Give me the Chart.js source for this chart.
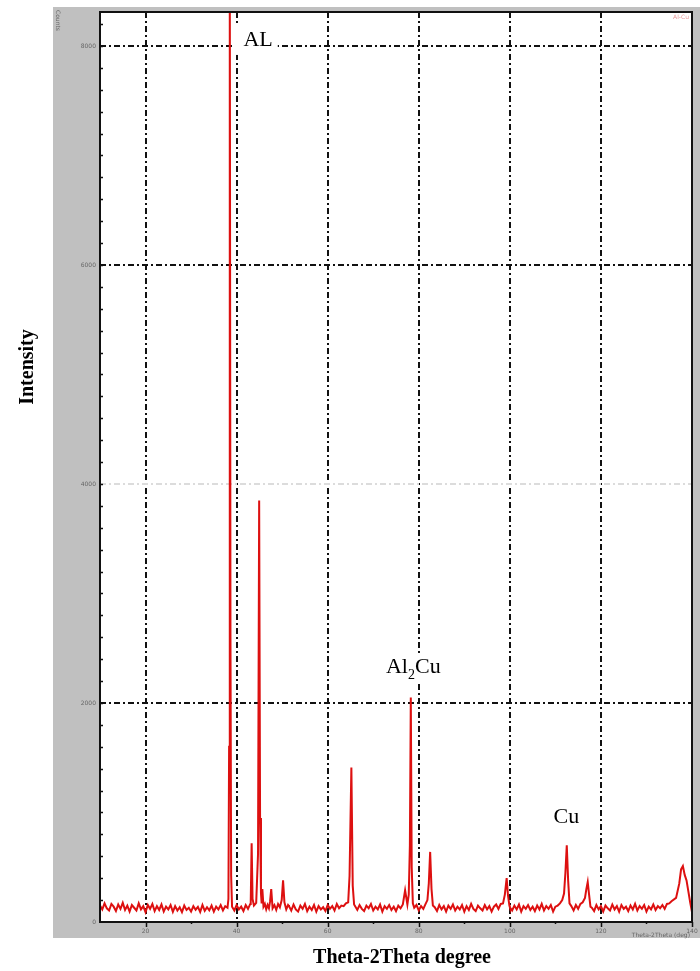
<!DOCTYPE html>
<html>
<head>
<meta charset="utf-8">
<script src="https://cdn.jsdelivr.net/npm/chart.js@4/dist/chart.umd.min.js"></script>
<style>
  html, body { margin: 0; padding: 0; background: #fff; }
  canvas { display: block; }
</style>
</head>
<body>
<canvas id="xrd" width="700" height="971"></canvas>
<script>
// 2-theta positions (deg)
const angles = [
  10,10.5,11,11.5,12,12.5,13,13.5,14,14.5,15,15.5,16,16.5,17,17.5,18,18.5,19,19.5,
  20,20.5,21,21.5,22,22.5,23,23.5,24,24.5,25,25.5,26,26.5,27,27.5,28,28.5,29,29.5,
  30,30.5,31,31.5,32,32.5,33,33.5,34,34.5,35,35.5,36,36.5,37,37.5,38,
  38.2,38.35,38.5,38.65,38.8,39,
  39.5,40,40.5,41,41.5,42,42.5,43,
  43.1,43.3,43.5,43.8,44.3,44.7,44.95,45.15,45.35,45.5,45.65,45.9,46.2,46.5,46.8,47.1,47.35,47.6,47.9,48.3,
  48.7,49.1,49.5,49.9,50.2,50.5,50.9,51.3,
  51.5,52,52.5,53,53.5,54,54.5,55,55.5,56,56.5,57,57.5,58,58.5,59,59.5,60,60.5,61,61.5,62,62.5,63,63.5,64,
  64.5,64.8,65.2,65.5,65.8,
  66,66.5,67,67.5,68,68.5,69,69.5,70,70.5,71,71.5,72,72.5,73,73.5,74,74.5,75,75.5,76,76.5,77,77.5,
  77.8,78.05,78.25,78.45,78.7,79,
  79.5,80,80.5,81,81.5,
  81.9,82.2,82.5,82.8,83.1,
  83.5,84,84.5,85,85.5,86,86.5,87,87.5,88,88.5,89,89.5,90,90.5,91,91.5,92,92.5,93,93.5,94,94.5,95,95.5,96,96.5,97,97.5,98,
  98.5,98.9,99.3,99.6,99.9,
  100,100.5,101,101.5,102,102.5,103,103.5,104,104.5,105,105.5,106,106.5,107,107.5,108,108.5,109,109.5,110,110.5,111,
  111.5,111.9,112.2,112.5,112.8,113.1,
  113.5,114,114.5,115,115.5,116,
  116.5,116.8,117.1,117.4,117.7,
  118,118.5,119,119.5,120,120.5,121,121.5,122,122.5,123,123.5,124,124.5,125,125.5,126,126.5,127,127.5,
  128,128.5,129,129.5,130,130.5,131,131.5,132,132.5,133,133.5,134,134.5,135,135.5,
  136.5,137.2,137.6,138,138.4,138.8,139.2,139.6,140
];

// intensity (counts) at each angle
const counts = [
  150,115,170,125,105,165,140,100,160,120,175,110,150,95,155,130,105,170,115,145,
  90,155,120,165,100,145,110,160,95,140,115,155,92,145,105,135,90,150,110,130,
  95,145,112,138,92,155,102,135,106,150,95,140,115,155,105,145,130,
  210,1600,8800,2600,420,140,
  105,155,115,140,100,155,120,165,
  180,720,210,150,175,620,3850,950,260,170,300,140,165,115,155,125,190,300,125,155,
  110,165,135,200,380,180,115,155,
  145,105,160,115,95,150,120,165,100,140,110,155,94,145,115,135,100,155,120,145,105,165,125,150,145,170,
  180,420,1410,330,160,
  145,110,155,120,100,150,125,165,105,140,115,160,95,145,120,155,110,140,100,150,125,160,290,160,
  250,700,2050,500,170,130,
  155,105,145,120,165,
  200,350,640,300,150,
  135,100,155,115,145,95,150,120,160,105,140,115,155,94,145,110,165,120,100,150,125,105,155,115,145,95,140,160,120,165,
  170,250,400,240,150,
  135,105,150,115,160,95,145,120,155,110,140,100,150,115,165,105,145,120,155,95,140,150,170,
  200,260,450,700,380,170,
  145,105,155,120,165,180,
  220,300,365,250,140,
  130,100,155,115,145,95,150,125,105,160,115,145,94,155,120,140,100,150,115,165,
  105,145,120,155,95,140,115,160,110,145,125,155,120,165,170,190,
  220,350,480,510,430,380,280,180,90
];

const xGrid = [20, 40, 60, 80, 100, 120];
const xTickLabels = [20, 40, 60, 80, 100, 120, 140];
const yGrid = [2000, 4000, 6000, 8000];
const yTickLabels = [0, 2000, 4000, 6000, 8000];
const yFaint = 4000;

const phaseLabels = [
  { name: "AL", sub: "", rest: "", x: 41.5, y: 8000 },
  { name: "Al", sub: "2", rest: "Cu", x: 72.8, y: 2274 },
  { name: "Cu", sub: "", rest: "", x: 109.6, y: 904 }
];

const SERIF = '"Liberation Serif", "DejaVu Serif", serif';

const panelPlugin = {
  id: "panel",
  beforeDraw(chart) {
    const c = chart.ctx, a = chart.chartArea;
    c.save();
    c.fillStyle = "#fff";
    c.fillRect(0, 0, chart.width, chart.height);
    c.fillStyle = "#c0c0c0";
    c.fillRect(53, 7, 647, 931);
    c.fillStyle = "#fff";
    c.fillRect(a.left, a.top, a.right - a.left, a.bottom - a.top);
    c.restore();
  },
  afterDraw(chart) {
    const c = chart.ctx, a = chart.chartArea;
    const xs = chart.scales.x, ys = chart.scales.y;
    c.save();

    // frame
    c.strokeStyle = "#111";
    c.lineWidth = 2;
    c.strokeRect(a.left, a.top, a.right - a.left, a.bottom - a.top);

    // small ticks
    c.lineWidth = 1.5;
    c.beginPath();
    for (let v = 200; v < 8300; v += 200) {
      const py = Math.round(ys.getPixelForValue(v)) + 0.5;
      c.moveTo(a.left, py);
      c.lineTo(a.left + 3, py);
    }
    xTickLabels.forEach(v => {
      const px = Math.round(xs.getPixelForValue(v)) + 0.5;
      c.moveTo(px, a.bottom);
      c.lineTo(px, a.bottom + 5);
    });
    for (let v = 30; v < 140; v += 20) {
      const px = Math.round(xs.getPixelForValue(v)) + 0.5;
      c.moveTo(px, a.bottom);
      c.lineTo(px, a.bottom + 2);
    }
    c.stroke();

    // tiny tick labels
    c.fillStyle = "#666";
    c.font = "6px DejaVu Sans";
    c.textAlign = "right";
    c.textBaseline = "middle";
    yTickLabels.forEach(v => c.fillText(String(v), a.left - 4, ys.getPixelForValue(v)));
    c.textAlign = "center";
    c.textBaseline = "top";
    xTickLabels.forEach(v => c.fillText(String(v), xs.getPixelForValue(v), a.bottom + 6));
    c.textAlign = "right";
    c.fillText("Theta-2Theta (deg)", 690, 932);
    c.save();
    c.translate(58, 10);
    c.rotate(Math.PI / 2);
    c.textAlign = "left";
    c.textBaseline = "middle";
    c.fillText("Counts", 0, 0);
    c.restore();
    c.fillStyle = "#e89a9a";
    c.textAlign = "right";
    c.fillText("Al-Cu", 689, 14);

    // phase labels, white box hides the grid behind them
    c.font = "22px " + SERIF;
    c.textBaseline = "alphabetic";
    c.textAlign = "left";
    phaseLabels.forEach(p => {
      const px = xs.getPixelForValue(p.x), py = ys.getPixelForValue(p.y);
      const w1 = c.measureText(p.name).width;
      c.font = "14px " + SERIF;
      const w2 = c.measureText(p.sub).width;
      c.font = "22px " + SERIF;
      const w3 = c.measureText(p.rest).width;
      c.fillStyle = "#fff";
      c.fillRect(px - 9, py - 20, w1 + w2 + w3 + 14, 29);
      c.fillStyle = "#000";
      c.fillText(p.name, px, py);
      if (p.sub) {
        c.font = "14px " + SERIF;
        c.fillText(p.sub, px + w1, py + 6);
        c.font = "22px " + SERIF;
        c.fillText(p.rest, px + w1 + w2, py);
      }
    });

    // axis titles
    c.font = "bold 20px " + SERIF;
    c.textAlign = "center";
    c.fillText("Theta-2Theta degree", 402, 963);
    c.save();
    c.translate(33, 367);
    c.rotate(-Math.PI / 2);
    c.fillText("Intensity", 0, 0);
    c.restore();

    c.restore();
  }
};

const ctx = document.getElementById("xrd").getContext("2d");
const gridDash = [6, 3, 2, 3];

new Chart(ctx, {
  type: "line",
  data: {
    datasets: [{
      data: angles.map((a, i) => ({ x: a, y: counts[i] })),
      borderColor: "#dd1010",
      borderWidth: 2,
      pointRadius: 0,
      tension: 0
    }]
  },
  options: {
    responsive: false,
    animation: false,
    layout: { padding: { left: 100, top: 12, right: 8, bottom: 49 } },
    plugins: { legend: { display: false }, tooltip: { enabled: false } },
    scales: {
      x: {
        type: "linear",
        min: 10,
        max: 140,
        afterBuildTicks: s => { s.ticks = xGrid.map(v => ({ value: v })); },
        ticks: { display: false },
        grid: { color: "#111", lineWidth: 2, drawTicks: false },
        border: { display: false, dash: gridDash }
      },
      y: {
        min: 0,
        max: 8310,
        afterBuildTicks: s => { s.ticks = yGrid.map(v => ({ value: v })); },
        ticks: { display: false },
        grid: {
          color: c => (c.tick && c.tick.value === yFaint ? "#dcdcdc" : "#111"),
          lineWidth: 2,
          drawTicks: false
        },
        border: { display: false, dash: gridDash }
      }
    }
  },
  plugins: [panelPlugin]
});
</script>
</body>
</html>
